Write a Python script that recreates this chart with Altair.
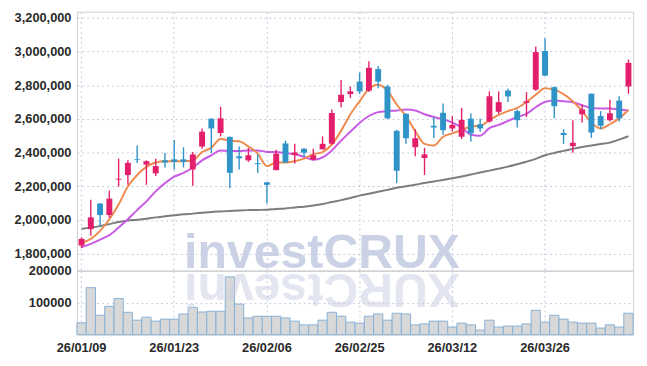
import altair as alt
import pandas as pd

dates = [
    "26/01/09", "26/01/12", "26/01/13", "26/01/14", "26/01/15", "26/01/16", "26/01/19", "26/01/20",
    "26/01/21", "26/01/22", "26/01/23", "26/01/26", "26/01/27", "26/01/28", "26/01/29", "26/01/30",
    "26/02/02", "26/02/03", "26/02/04", "26/02/05", "26/02/06", "26/02/09", "26/02/10", "26/02/11",
    "26/02/12", "26/02/13", "26/02/19", "26/02/20", "26/02/23", "26/02/24", "26/02/25", "26/02/26",
    "26/02/27", "26/03/03", "26/03/04", "26/03/05", "26/03/06", "26/03/09", "26/03/10", "26/03/11",
    "26/03/12", "26/03/13", "26/03/16", "26/03/17", "26/03/18", "26/03/19", "26/03/20", "26/03/23",
    "26/03/24", "26/03/25", "26/03/26", "26/03/27", "26/03/30", "26/03/31", "26/04/01", "26/04/02",
    "26/04/03", "26/04/06", "26/04/07", "26/04/08",
]
label_dates = ["26/01/09", "26/01/23", "26/02/06", "26/02/25", "26/03/12", "26/03/26"]

open_ = [1849000, 1946000, 2098000, 2030000, 2240000, 2267000, 2361000, 2329000, 2277000, 2354000,
         2360000, 2360000, 2300000, 2436000, 2601000, 2516000, 2493000, 2378000, 2354000, 2337000,
         2224000, 2296000, 2454000, 2385000, 2423000, 2358000, 2419000, 2452000, 2700000, 2747000,
         2821000, 2767000, 2895000, 2792000, 2529000, 2630000, 2432000, 2368000, 2559000, 2636000,
         2543000, 2494000, 2601000, 2568000, 2584000, 2642000, 2768000, 2646000, 2694000, 2773000,
         3002000, 2788000, 2516000, 2438000, 2627000, 2749000, 2617000, 2592000, 2708000, 2792000]
high = [1898000, 2121000, 2100000, 2175000, 2364000, 2354000, 2442000, 2354000, 2364000, 2398000,
        2475000, 2432000, 2403000, 2543000, 2603000, 2671000, 2495000, 2436000, 2428000, 2388000,
        2226000, 2417000, 2471000, 2452000, 2425000, 2423000, 2496000, 2656000, 2831000, 2792000,
        2875000, 2942000, 2914000, 2802000, 2535000, 2632000, 2539000, 2428000, 2611000, 2691000,
        2617000, 2665000, 2633000, 2601000, 2763000, 2763000, 2778000, 2656000, 2759000, 3029000,
        3078000, 2792000, 2539000, 2592000, 2685000, 2751000, 2646000, 2714000, 2734000, 2951000]
low = [1834000, 1907000, 1962000, 2014000, 2199000, 2209000, 2339000, 2209000, 2261000, 2312000,
       2300000, 2312000, 2203000, 2423000, 2397000, 2496000, 2189000, 2300000, 2345000, 2280000,
       2098000, 2296000, 2341000, 2335000, 2374000, 2354000, 2419000, 2448000, 2669000, 2724000,
       2747000, 2759000, 2782000, 2598000, 2219000, 2452000, 2378000, 2267000, 2487000, 2506000,
       2525000, 2481000, 2465000, 2524000, 2578000, 2630000, 2700000, 2549000, 2611000, 2767000,
       2854000, 2603000, 2452000, 2399000, 2578000, 2487000, 2539000, 2584000, 2584000, 2749000]
close = [1888000, 2016000, 2030000, 2127000, 2245000, 2339000, 2357000, 2349000, 2320000, 2341000,
         2345000, 2345000, 2389000, 2524000, 2543000, 2603000, 2280000, 2366000, 2384000, 2331000,
         2209000, 2394000, 2341000, 2401000, 2399000, 2384000, 2452000, 2634000, 2743000, 2763000,
         2763000, 2903000, 2821000, 2603000, 2292000, 2485000, 2485000, 2389000, 2549000, 2533000,
         2564000, 2594000, 2514000, 2543000, 2734000, 2699000, 2733000, 2592000, 2704000, 2996000,
         2856000, 2675000, 2504000, 2458000, 2656000, 2519000, 2559000, 2633000, 2603000, 2932000]

ma_short = [1865000, 1888000, 1936000, 2005000, 2092000, 2199000, 2267000, 2315000, 2341000, 2349000,
            2349000, 2349000, 2354000, 2403000, 2429000, 2481000, 2471000, 2467000, 2436000, 2395000,
            2320000, 2341000, 2341000, 2349000, 2364000, 2390000, 2403000, 2448000, 2529000, 2627000,
            2704000, 2778000, 2802000, 2767000, 2685000, 2617000, 2527000, 2452000, 2442000, 2494000,
            2514000, 2534000, 2555000, 2559000, 2592000, 2623000, 2646000, 2665000, 2700000, 2743000,
            2782000, 2773000, 2747000, 2704000, 2646000, 2578000, 2543000, 2568000, 2603000, 2652000]
ma_mid = [1840000, 1859000, 1884000, 1911000, 1956000, 2005000, 2059000, 2111000, 2170000, 2219000,
          2257000, 2280000, 2310000, 2354000, 2384000, 2413000, 2410000, 2409000, 2413000, 2413000,
          2404000, 2403000, 2397000, 2390000, 2375000, 2357000, 2372000, 2413000, 2471000, 2524000,
          2576000, 2617000, 2640000, 2646000, 2649000, 2655000, 2650000, 2627000, 2611000, 2598000,
          2578000, 2549000, 2506000, 2500000, 2545000, 2564000, 2588000, 2611000, 2630000, 2669000,
          2700000, 2708000, 2704000, 2699000, 2681000, 2665000, 2662000, 2662000, 2656000, 2650000]
ma_long = [1949000, 1955000, 1964000, 1976000, 1988000, 1997000, 2002000, 2008000, 2016000, 2022000,
           2028000, 2034000, 2038000, 2043000, 2048000, 2051000, 2054000, 2057000, 2059000, 2060000,
           2061000, 2066000, 2069000, 2075000, 2079000, 2086000, 2095000, 2107000, 2118000, 2131000,
           2145000, 2156000, 2168000, 2179000, 2191000, 2200000, 2209000, 2220000, 2229000, 2238000,
           2248000, 2258000, 2270000, 2282000, 2293000, 2305000, 2317000, 2331000, 2346000, 2363000,
           2384000, 2398000, 2410000, 2422000, 2433000, 2442000, 2451000, 2459000, 2477000, 2497000]

volume = [36900, 146800, 60600, 88300, 112900, 69800, 45200, 54500, 42200, 48300,
          48300, 64600, 85200, 70800, 72900, 72900, 180600, 95400, 52300, 57500,
          57500, 57500, 52300, 42200, 30500, 30500, 45200, 69800, 57500, 39100,
          36000, 57500, 64600, 45200, 66800, 64600, 30500, 33600, 42200, 42200,
          23700, 36000, 30500, 14500, 45200, 23700, 26800, 26800, 33600, 76000,
          39100, 60600, 48300, 39100, 36000, 36000, 20600, 30500, 23700, 66800]

price_ticks = [1800000, 2000000, 2200000, 2400000, 2600000, 2800000, 3000000, 3200000]
volume_ticks = [100000, 200000]

df = pd.DataFrame({
    "date": dates, "open": open_, "high": high, "low": low, "close": close,
    "ma_short": ma_short, "ma_mid": ma_mid, "ma_long": ma_long, "volume": volume,
})
df["dir"] = ["up" if c >= o else "down" for o, c in zip(open_, close)]

FONT = "Liberation Sans"
FS = 13
LBL = "#2a2a2a"
GRID = "#c5c9dc"
W = 565

xscale = alt.Scale(domain=dates, paddingInner=0, paddingOuter=0)
color = alt.Color("dir:N", scale=alt.Scale(domain=["up", "down"], range=["#e31e6a", "#2f93c8"]), legend=None)

x_top = alt.X("date:O", sort=dates, scale=xscale, title=None,
              axis=alt.Axis(values=label_dates, labels=False, ticks=False, domain=False, grid=True,
                            bandPosition=0.5, gridDash=[2, 3], gridColor=GRID))
x_bot = alt.X("date:O", sort=dates, scale=xscale, title=None,
              axis=alt.Axis(values=label_dates, labelAngle=0, ticks=False, domain=False, grid=True,
                            bandPosition=0.5, gridDash=[2, 3], gridColor=GRID, labelPadding=7,
                            labelFont=FONT, labelFontSize=FS, labelFontWeight="bold", labelColor=LBL))

yscale = alt.Scale(domain=[1700000, 3235000], nice=False, zero=False)
yaxis = alt.Axis(values=price_ticks, format=",d", ticks=False, domain=False, grid=True, gridDash=[2, 3],
                 gridColor=GRID, labelPadding=6, minExtent=60, maxExtent=60, labelFont=FONT,
                 labelFontSize=FS, labelFontWeight="bold", labelColor=LBL)

base = alt.Chart(df)

wm = base.mark_text(text="investCRUX", font="Liberation Sans", fontSize=49, fontWeight="bold",
                    color="#c3cbe2", opacity=0.85, align="center", baseline="alphabetic").encode(
    x=alt.value(249), y=alt.value(260)).transform_filter("datum.date == '26/01/09'")

lines = []
for field, col in [("ma_long", "#7d7d7d"), ("ma_mid", "#c85ae6"), ("ma_short", "#ef8a4e")]:
    lines.append(base.mark_line(color=col, strokeWidth=2, interpolate="monotone").encode(
        x=x_top, y=alt.Y(f"{field}:Q", scale=yscale, axis=yaxis, title=None)))

wicks = base.mark_rule(strokeWidth=1.4).encode(
    x=x_top, y=alt.Y("low:Q", scale=yscale, axis=yaxis, title=None), y2="high:Q", color=color)
bodies = base.mark_bar(size=6).encode(
    x=x_top, y=alt.Y("open:Q", scale=yscale, axis=yaxis, title=None), y2="close:Q", color=color)

price = alt.layer(wm, *lines, wicks, bodies).properties(width=W, height=263)

vbars = base.mark_bar(color="#d8d8d8", stroke="#86b1d6", strokeWidth=1).encode(
    x=x_bot,
    y=alt.Y("volume:Q", scale=alt.Scale(domain=[0, 200000], nice=False),
            axis=alt.Axis(values=volume_ticks, format="d", ticks=False, domain=False, grid=True,
                          gridDash=[2, 3], gridColor=GRID, labelPadding=6, minExtent=60, maxExtent=60,
                          labelFont=FONT, labelFontSize=FS, labelFontWeight="bold", labelColor=LBL),
            title=None))

wm_ref = base.mark_text(text="XURCtsevni", font="Liberation Sans", fontSize=49, fontWeight="bold",
                        color="#c9cfe3", opacity=0.5, align="center", baseline="alphabetic", angle=180).encode(
    x=alt.value(249), y=alt.value(3)).transform_filter("datum.date == '26/01/09'")

vol = alt.layer(vbars, wm_ref).properties(width=W, height=65)

chart = alt.vconcat(price, vol, spacing=0, bounds="flush").resolve_scale(
    x="independent", y="independent").resolve_axis(x="independent", y="independent").properties(
    padding={"left": 5, "top": 0, "right": 5, "bottom": 5}, background="white"
).configure_view(stroke="#cfcfcf", strokeWidth=1)

chart.save("out.html", embed_options={"renderer": "svg", "actions": False})
